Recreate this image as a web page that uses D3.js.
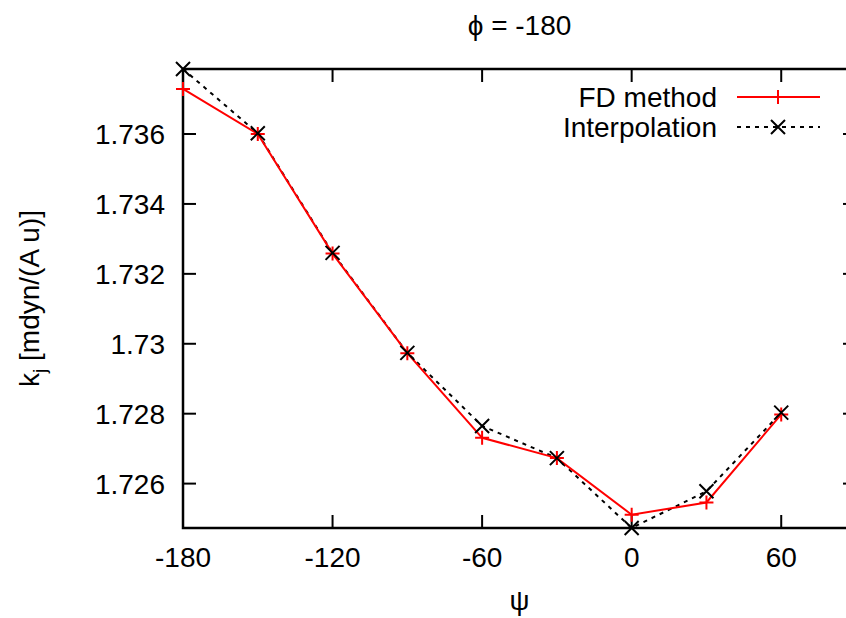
<!DOCTYPE html>
<html>
<head>
<meta charset="utf-8">
<script src="https://cdn.jsdelivr.net/npm/d3@7"></script>
<style>
  body { margin: 0; background: #fff; }
  text { font-family: "Liberation Sans", Arial, sans-serif; fill: #000; }
</style>
</head>
<body>
<svg id="chart"></svg>
<script>
// psi angles (degrees)
const psi = [-180, -150, -120, -90, -60, -30, 0, 30, 60];
// force constants
const fdMethod = [1.73729, 1.73600, 1.73258, 1.72973, 1.72731, 1.72673, 1.72511, 1.72546, 1.72798];
const interpolation = [1.73786, 1.73602, 1.73260, 1.72974, 1.72765, 1.72673, 1.72473, 1.72578, 1.72803];

const xTicks = [-180, -120, -60, 0, 60];
const yTicks = [1.726, 1.728, 1.730, 1.732, 1.734, 1.736];
const yTickLabels = ['1.726', '1.728', '1.73', '1.732', '1.734', '1.736'];

const width = 846, height = 618;
const margin = {top: 69, right: -10, bottom: 90, left: 183};
const innerW = width - margin.left - margin.right;
const innerH = height - margin.top - margin.bottom;

const svg = d3.select('#chart')
  .attr('width', width)
  .attr('height', height);

const x = d3.scaleLinear().domain([-180, 90]).range([0, innerW]);
const allY = fdMethod.concat(interpolation);
const y = d3.scaleLinear().domain(d3.extent(allY)).range([innerH, 0]);

const g = svg.append('g')
  .attr('transform', `translate(${margin.left},${margin.top})`);

// ticks (gnuplot style: inward, mirrored)
const tickLen = 13;
xTicks.forEach(t => {
  g.append('line').attr('x1', x(t)).attr('x2', x(t)).attr('y1', innerH).attr('y2', innerH - tickLen)
    .attr('stroke', '#000').attr('stroke-width', 2);
  g.append('line').attr('x1', x(t)).attr('x2', x(t)).attr('y1', 0).attr('y2', tickLen)
    .attr('stroke', '#000').attr('stroke-width', 2);
  g.append('text').attr('x', x(t)).attr('y', innerH + 39)
    .attr('text-anchor', 'middle').attr('font-size', 28).text(t);
});
yTicks.forEach((t, i) => {
  g.append('line').attr('x1', 0).attr('x2', tickLen).attr('y1', y(t)).attr('y2', y(t))
    .attr('stroke', '#000').attr('stroke-width', 2);
  g.append('line').attr('x1', innerW).attr('x2', innerW - tickLen).attr('y1', y(t)).attr('y2', y(t))
    .attr('stroke', '#000').attr('stroke-width', 2);
  g.append('text').attr('x', -18).attr('y', y(t) + 10)
    .attr('text-anchor', 'end').attr('font-size', 28).text(yTickLabels[i]);
});

// border
g.append('rect').attr('x', 0).attr('y', 0).attr('width', innerW).attr('height', innerH)
  .attr('fill', 'none').attr('stroke', '#000').attr('stroke-width', 2.5);

const line = d3.line().x((d, i) => x(psi[i])).y(d => y(d));

// interpolation: dotted black with x markers
g.append('path').datum(interpolation)
  .attr('d', line).attr('fill', 'none').attr('stroke', '#000')
  .attr('stroke-width', 2).attr('stroke-dasharray', '4,5');

// FD method: red with + markers
g.append('path').datum(fdMethod)
  .attr('d', line).attr('fill', 'none').attr('stroke', '#f00').attr('stroke-width', 2);

const s = 7;
function plus(sel, cx, cy) {
  sel.append('path').attr('d', `M${cx - s},${cy}H${cx + s}M${cx},${cy - s}V${cy + s}`)
    .attr('stroke', '#f00').attr('stroke-width', 2).attr('fill', 'none');
}
function cross(sel, cx, cy) {
  sel.append('path').attr('d', `M${cx - s},${cy - s}L${cx + s},${cy + s}M${cx - s},${cy + s}L${cx + s},${cy - s}`)
    .attr('stroke', '#000').attr('stroke-width', 2).attr('fill', 'none');
}
fdMethod.forEach((d, i) => plus(g, x(psi[i]), y(d)));
interpolation.forEach((d, i) => cross(g, x(psi[i]), y(d)));

// legend
const legend = svg.append('g');
const legendRows = [
  {label: 'FD method', color: '#f00', dash: null, mark: plus},
  {label: 'Interpolation', color: '#000', dash: '4,5', mark: cross}
];
legendRows.forEach((r, i) => {
  const ly = 97 + i * 30;
  legend.append('text').attr('x', 717).attr('y', ly + 10)
    .attr('text-anchor', 'end').attr('font-size', 28).text(r.label);
  legend.append('line').attr('x1', 737).attr('x2', 820).attr('y1', ly).attr('y2', ly)
    .attr('stroke', r.color).attr('stroke-width', 2).attr('stroke-dasharray', r.dash);
  r.mark(legend, 778, ly);
});

// title
svg.append('text').attr('x', margin.left + innerW / 2).attr('y', 35)
  .attr('text-anchor', 'middle').attr('font-size', 28).text('\u03d5 = -180');

// axis labels
svg.append('text').attr('x', margin.left + innerW / 2).attr('y', 610)
  .attr('text-anchor', 'middle').attr('font-size', 28).text('\u03c8');

const yl = svg.append('text')
  .attr('transform', `translate(39,${margin.top + innerH / 2}) rotate(-90)`)
  .attr('text-anchor', 'middle').attr('font-size', 28);
yl.append('tspan').text('k');
yl.append('tspan').attr('font-size', 19).attr('dy', 7).text('j');
yl.append('tspan').attr('dy', -7).text(' [mdyn/(A u)]');
</script>
</body>
</html>
